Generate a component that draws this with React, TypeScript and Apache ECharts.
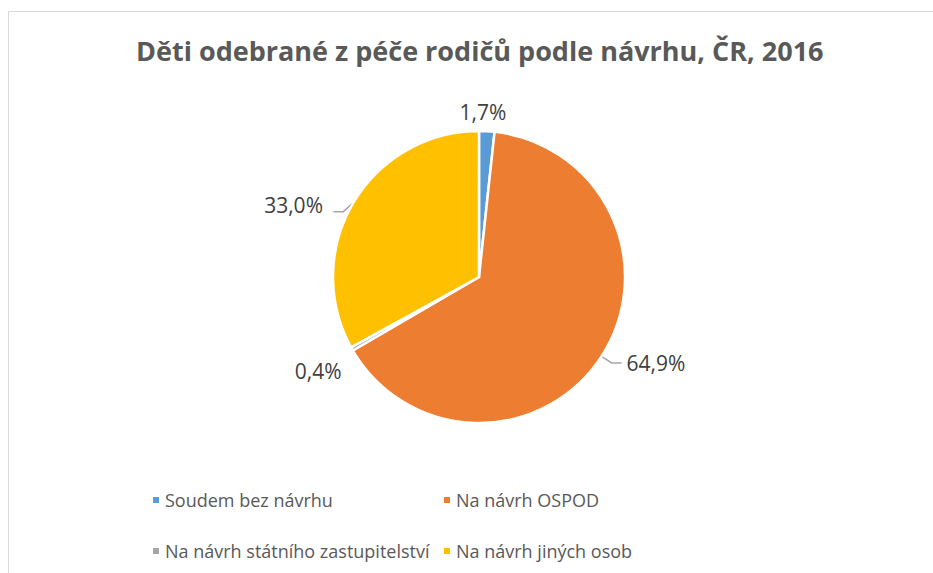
import React, { useEffect, useRef } from "react";
import * as echarts from "echarts";

const titleText = "Děti odebrané z péče rodičů podle návrhu, ČR, 2016";
const categories = [
  "Soudem bez návrhu",
  "Na návrh OSPOD",
  "Na návrh státního zastupitelství",
  "Na návrh jiných osob",
];
const values = [1.7, 64.9, 0.4, 33.0];
const colors = ["#5b9bd5", "#ed7d31", "#a5a5a5", "#ffc000"];
const showLine = [false, true, false, true];
const labelShift = [
  [-43, -7],
  [0, 0],
  [15, 16],
  [-5, 8],
];

const FONT = "'Open Sans', 'Noto Sans', sans-serif";

export default function App() {
  const ref = useRef<HTMLDivElement>(null);
  useEffect(() => {
    document.body.style.margin = "0";
    const chart = echarts.init(ref.current!, null, { renderer: "svg" });
    const legendPos = [
      { left: 146, top: 486 },
      { left: 437, top: 486 },
      { left: 146, top: 537 },
      { left: 437, top: 537 },
    ];
    chart.setOption({
      animation: false,
      backgroundColor: "#ffffff",
      title: {
        text: titleText,
        left: 131,
        top: 32,
        textStyle: {
          fontFamily: FONT,
          fontSize: 27,
          fontWeight: "bold",
          color: "#595959",
        },
      },
      graphic: [
        {
          type: "rect",
          shape: { x: 8.5, y: 11.5, width: 1000, height: 700 },
          style: { fill: "none", stroke: "#d9d9d9", lineWidth: 1 },
          silent: true,
        },
      ],
      legend: categories.map((c, i) => ({
        data: [c],
        left: legendPos[i].left,
        top: legendPos[i].top,
        icon: "rect",
        itemWidth: 8,
        itemHeight: 8,
        itemGap: 0,
        textStyle: { fontFamily: FONT, fontSize: 18, color: "#595959" },
        selectedMode: false,
      })),
      series: [
        {
          type: "pie",
          center: [479, 277],
          radius: 146,
          startAngle: 90,
          clockwise: true,
          avoidLabelOverlap: false,
          itemStyle: { borderColor: "#ffffff", borderWidth: 2.5 },
          label: {
            show: true,
            position: "outside",
            fontFamily: FONT,
            fontSize: 21,
            color: "#404040",
            formatter: (p: any) =>
              p.value.toFixed(1).replace(".", ",") + "%",
          },
          labelLine: {
            show: true,
            length: 12,
            length2: 10,
            lineStyle: { color: "#a6a6a6", width: 1.5 },
          },
          labelLayout: (p: any) => {
            const i = p.dataIndex;
            const out: any = { dx: labelShift[i][0], dy: labelShift[i][1] };
            const pts = p.labelLinePoints;
            if (i === 3 && pts && pts.length) {
              const p0 = pts[0];
              const p1 = [p0[0] - 10, p0[1] + 9];
              const p2 = [p1[0] - 10, p1[1]];
              out.labelLinePoints = [p0, p1, p2];
            }
            return out;
          },
          data: categories.map((c, i) => ({
            name: c,
            value: values[i],
            itemStyle: { color: colors[i] },
            labelLine: { show: showLine[i] },
          })),
        },
      ],
    });
    return () => chart.dispose();
  }, []);
  return (
    <div
      ref={ref}
      style={{ position: "fixed", left: 0, top: 0, width: 933, height: 573 }}
    />
  );
}
